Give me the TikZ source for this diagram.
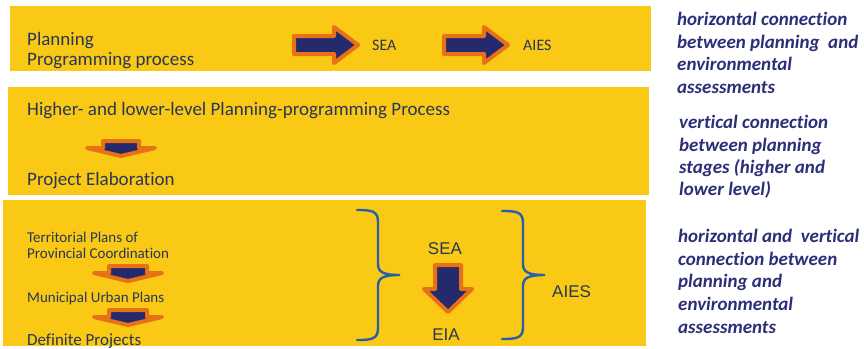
\documentclass[tikz,border=0pt]{standalone}
\usepackage{fontspec}
\setmainfont{Carlito}[RawFeature={-liga}]
\newfontfamily\arialfont{Liberation Sans}
\definecolor{bandyellow}{RGB}{250,201,22}
\definecolor{bodytext}{RGB}{40,55,85}
\definecolor{notetext}{RGB}{43,47,120}
\definecolor{arrownavy}{RGB}{36,42,108}
\definecolor{arroworange}{RGB}{232,112,22}
\definecolor{braceblue}{RGB}{40,95,170}
\begin{document}
\begin{tikzpicture}[x=1pt,y=-1pt,
  txt/.style={anchor=base west,inner sep=0pt,text=bodytext},
  big/.style={txt,font=\fontsize{19}{20}\selectfont},
  mid/.style={txt,font=\fontsize{16}{18}\selectfont},
  small/.style={txt,font=\fontsize{15}{16}\selectfont},
  sans/.style={anchor=base,inner sep=0pt,text=bodytext,font=\arialfont\fontsize{17}{19}\selectfont},
  note/.style={anchor=base west,inner sep=0pt,text=notetext,font=\bfseries\itshape\fontsize{19}{21}\selectfont},
  blockarrow/.style={fill=arrownavy,draw=arroworange,line width=4pt,line join=round},
  bracepath/.style={draw=braceblue,line width=2.4pt,line cap=round}]
\useasboundingbox (0,0) rectangle (864,348);
\clip (0,0) rectangle (864,348);

% three yellow bands
\fill[bandyellow] (10,6) rectangle (651,71);
\fill[bandyellow] (8,87) rectangle (649,195);
\fill[bandyellow] (3,200) rectangle (646,346);

% band 1: horizontal connection
\node[big] (plan) at (27,45) {Planning};
\node[big] (prog) at (27,65) {Programming process};
\path[blockarrow] (294,36) -- (334,36) -- (334,27) -- (358,45) -- (334,63) -- (334,54) -- (294,54) -- cycle;
\node[mid,anchor=west] (sea1) at (372,45) {SEA};
\path[blockarrow] (444,36) -- (484,36) -- (484,27) -- (508,45) -- (484,63) -- (484,54) -- (444,54) -- cycle;
\node[mid,anchor=west] (aies1) at (523,45) {AIES};

% band 2: vertical connection
\node[big] (hilo) at (27,115) {Higher- and lower-level Planning-programming Process};
\path[blockarrow] (103,141) -- (139,141) -- (139,148) -- (155,148) -- (121,156) -- (87,148) -- (103,148) -- cycle;
\node[big] (proj) at (27,185) {Project Elaboration};

% band 3: both connections
\node[small] (terr) at (27,242) {Territorial Plans of};
\node[small] (prov) at (27,258) {Provincial Coordination};
\path[blockarrow] (109,266) -- (147,266) -- (147,273) -- (162,273) -- (128,281) -- (94,273) -- (109,273) -- cycle;
\node[small] (muni) at (27,302) {Municipal Urban Plans};
\path[blockarrow] (109,310) -- (147,310) -- (147,317) -- (162,317) -- (128,325) -- (94,317) -- (109,317) -- cycle;
\node[txt,font=\fontsize{17}{19}\selectfont] (defi) at (27,345) {Definite Projects};

\path[bracepath] (357,210) .. controls (372,210) and (378,211) .. (378,222) -- (378,264)
  .. controls (378,272) and (383,275) .. (400,275)
  .. controls (383,275) and (378,278) .. (378,286) -- (378,328)
  .. controls (378,339) and (372,340) .. (357,340);
\node[sans] (sea3) at (445,254) {SEA};
\path[blockarrow] (435,265) -- (461,265) -- (461,289) -- (472,289) -- (448,312) -- (424,289) -- (435,289) -- cycle;
\node[sans] (eia3) at (446,340) {EIA};
\path[bracepath] (502,211) .. controls (517,211) and (523,212) .. (523,223) -- (523,264)
  .. controls (523,272) and (528,275) .. (545,275)
  .. controls (528,275) and (523,278) .. (523,286) -- (523,327)
  .. controls (523,338) and (517,339) .. (502,339);
\node[sans,anchor=base west] (aies3) at (552,297) {AIES};

% notes on the right
\node[note] (n11) at (677,25) {horizontal connection};
\node[note] (n12) at (677,48) {between planning\ \ and};
\node[note] (n13) at (677,70) {environmental};
\node[note] (n14) at (677,93) {assessments};
\node[note] (n21) at (679,128) {vertical connection};
\node[note] (n22) at (679,151) {between planning};
\node[note] (n23) at (679,173) {stages (higher and};
\node[note] (n24) at (679,195) {lower level)};
\node[note] (n31) at (678,242) {horizontal and\ \ vertical};
\node[note] (n32) at (678,265) {connection between};
\node[note] (n33) at (678,287) {planning and};
\node[note] (n34) at (678,310) {environmental};
\node[note] (n35) at (678,333) {assessments};
\end{tikzpicture}
\end{document}
